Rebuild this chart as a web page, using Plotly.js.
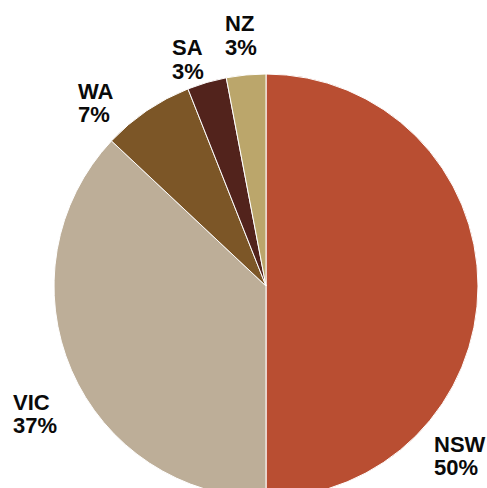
<!DOCTYPE html>
<html>
<head>
<meta charset="utf-8">
<script src="https://cdn.plot.ly/plotly-3.0.1.min.js"></script>
<style>
html,body{margin:0;padding:0;overflow:hidden;background:#fff;width:487px;height:488px;}
#chart{width:487px;height:572px;}
</style>
</head>
<body>
<div id="chart"></div>
<script>
// Data
var regions = ["NSW", "VIC", "WA", "SA", "NZ"];
var shares = [50, 37, 7, 3, 3];
var colors = ["#B94E32", "#BDAE98", "#7C5627", "#52231C", "#BBA66B"];

// Label layout (pixel positions: left x, baseline of first line, baseline of second line)
var labelPos = {
  NSW: [434, 452, 475],
  VIC: [13, 410, 433],
  WA: [78, 99, 122],
  SA: [172, 55, 79],
  NZ: [225, 31, 55]
};

var W = 487, H = 572;
var M = {l: 54, r: 9, t: 74, b: 74};
var PW = W - M.l - M.r, PH = H - M.t - M.b;
var FS = 22;

function px2x(px) { return (px - M.l) / PW; }
function py2y(py) { return 1 - (py - M.t) / PH; }

var annotations = [];
regions.forEach(function (r, i) {
  var p = labelPos[r];
  var lines = [r, shares[i] + "%"];
  [p[1], p[2]].forEach(function (base, k) {
    annotations.push({
      xref: "paper", yref: "paper",
      x: px2x(p[0] - 1), y: py2y(base - 0.36 * FS),
      xanchor: "left", yanchor: "middle",
      text: lines[k], showarrow: false, borderpad: 0,
      font: {family: "Liberation Sans, Arial, sans-serif", size: FS, color: "#0a0a0a", weight: "bold"}
    });
  });
});

var trace = {
  type: "pie",
  labels: regions,
  values: shares,
  sort: false,
  direction: "clockwise",
  rotation: 0,
  textinfo: "none",
  hoverinfo: "label+percent",
  marker: {colors: colors, line: {color: "#ffffff", width: 1}},
  showlegend: false
};

var layout = {
  width: W, height: H,
  margin: M,
  paper_bgcolor: "#ffffff",
  plot_bgcolor: "#ffffff",
  showlegend: false,
  annotations: annotations
};

Plotly.newPlot("chart", [trace], layout, {displayModeBar: false, staticPlot: true});
</script>
</body>
</html>
